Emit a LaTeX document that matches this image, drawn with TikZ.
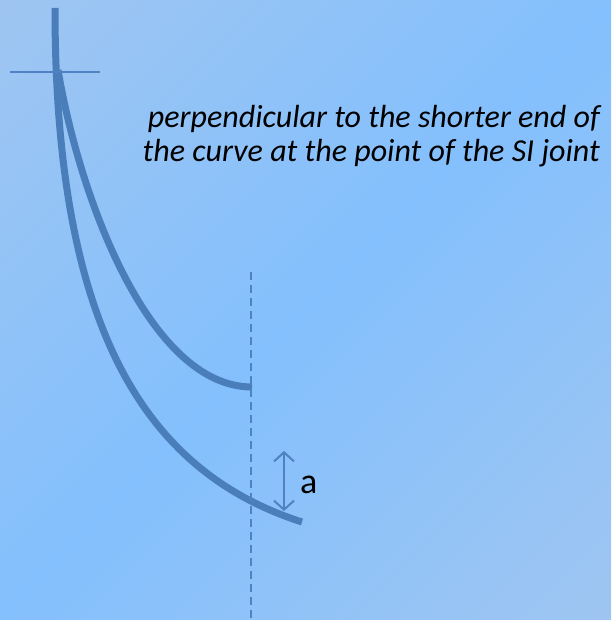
\documentclass[tikz,border=0pt]{standalone}
\usepackage{fontspec}
\setmainfont{Carlito}
\usepackage{xcolor}
\usepackage{tikz}
\usetikzlibrary{arrows.meta}
\definecolor{bgedge}{HTML}{A2C6F0}
\definecolor{bgmid}{HTML}{84C0FD}
\definecolor{bone}{HTML}{4A7EBB}
\definecolor{guideblue}{HTML}{4F82C0}
\pgfdeclareverticalshading{bgshade}{100bp}{color(0bp)=(bgedge); color(10bp)=(bgedge); color(50bp)=(bgmid); color(90bp)=(bgedge); color(100bp)=(bgedge)}

\begin{document}
\begin{tikzpicture}[
  x=1pt,y=-1pt,
  curve/.style={draw=bone,line width=7pt},
  guide/.style={draw=guideblue,line width=2pt,dash pattern=on 8pt off 5pt},
  dimarr/.style={{Straight Barb[length=9pt,width=20pt]}-{Straight Barb[length=9pt,width=20pt]},draw=guideblue,line width=2pt},
  note/.style={font=\itshape\fontsize{32}{34}\selectfont,align=right,inner sep=0pt}
]
  \useasboundingbox (0,0) rectangle (611,620);
  \shade[shading=bgshade,shading angle=45] (0,0) rectangle (611,620);
  % bone shape
  \coordinate (top) at (55,8);
  \coordinate (split) at (58,70);
  \coordinate (innerend) at (252,387);
  \coordinate (outerend) at (302,522);
  \draw[curve] (top) .. controls (55,320) and (140,470) .. (outerend);
  \draw[curve] (split) .. controls (80,200) and (150,387) .. (innerend);
  \coordinate (barL) at (10,72);
  \coordinate (barR) at (100,72);
  \draw[draw=guideblue,line width=2pt] (barL) -- (barR);
  % perpendicular line
  \coordinate (perpT) at (251,272);
  \coordinate (perpB) at (251,620);
  \draw[guide] (perpT) -- (perpB);
  % offset a
  \coordinate (atop) at (284,451);
  \coordinate (abot) at (284,511);
  \draw[dimarr] (atop) -- (abot);
  \node[anchor=base west,inner sep=0pt,font=\fontsize{36}{40}\selectfont] (alab) at (300,493) {a};
  \node[note,anchor=base east] (txt) at (600,162) {perpendicular to the shorter end of\\the curve at the point of the SI joint};
\end{tikzpicture}
\end{document}
